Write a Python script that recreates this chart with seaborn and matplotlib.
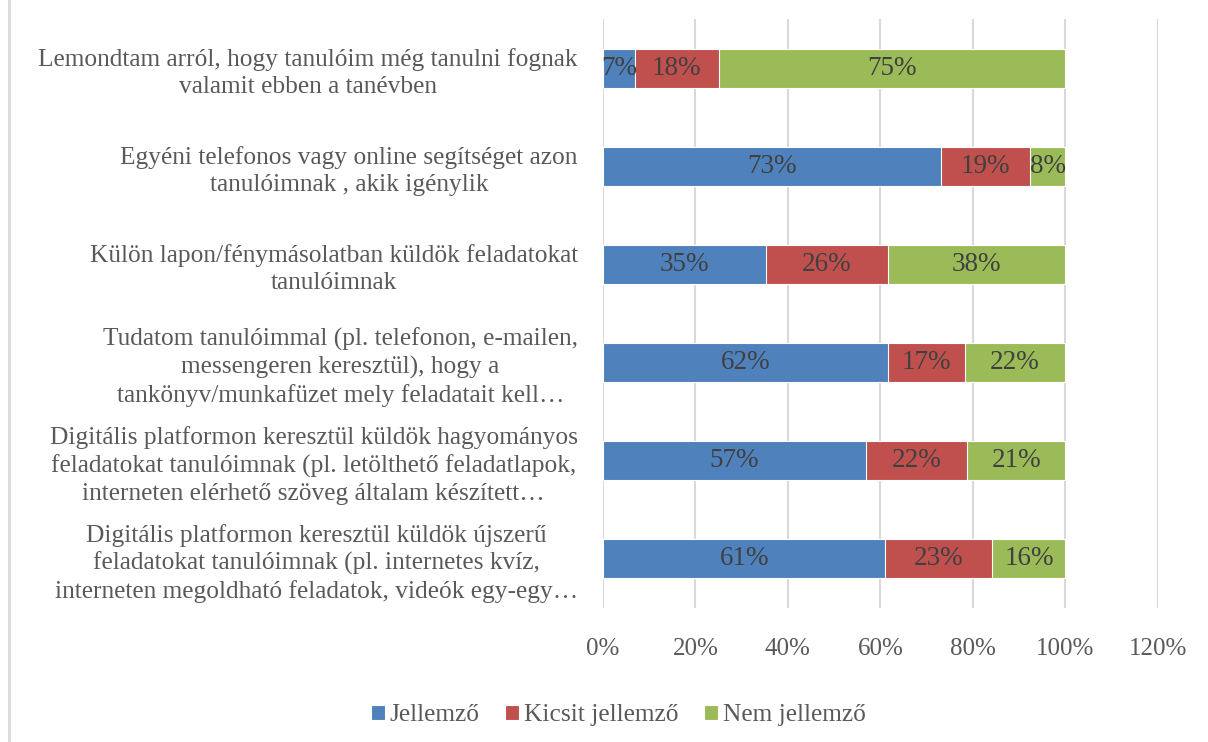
import pandas as pd
import seaborn as sns
import matplotlib.pyplot as plt
from matplotlib.lines import Line2D
from matplotlib.ticker import FuncFormatter

# Statements (top to bottom) and answer shares in percent
statements = [
    "Lemondtam arról, hogy tanulóim még tanulni fognak\nvalamit ebben a tanévben",
    "Egyéni telefonos vagy online segítséget azon\ntanulóimnak , akik igénylik",
    "Külön lapon/fénymásolatban küldök feladatokat\ntanulóimnak",
    "Tudatom tanulóimmal (pl. telefonon, e-mailen,\nmessengeren keresztül), hogy a\ntankönyv/munkafüzet mely feladatait kell…",
    "Digitális platformon keresztül küldök hagyományos\nfeladatokat tanulóimnak (pl. letölthető feladatlapok,\ninterneten elérhető szöveg általam készített…",
    "Digitális platformon keresztül küldök újszerű\nfeladatokat tanulóimnak (pl. internetes kvíz,\ninterneten megoldható feladatok, videók egy-egy…",
]
jellemzo = [6.9, 73.0, 35.3, 61.6, 56.8, 61.1]
kicsit = [18.2, 19.4, 26.3, 16.6, 22.0, 23.1]
nem = [74.9, 7.6, 38.4, 21.8, 21.2, 15.8]

series = ["Jellemző", "Kicsit jellemző", "Nem jellemző"]
colors = ["#4F81BD", "#C0504D", "#9BBB59"]

df = pd.DataFrame({"statement": statements, "Jellemző": jellemzo,
                   "Kicsit jellemző": kicsit, "Nem jellemző": nem})
df["c1"] = df["Jellemző"]
df["c2"] = df["c1"] + df["Kicsit jellemző"]
df["c3"] = df["c2"] + df["Nem jellemző"]

sns.set_theme(style="white")
plt.rcParams["font.family"] = ["Liberation Serif", "DejaVu Serif"]

fig = plt.figure(figsize=(12.08, 7.42), dpi=100)
ax = fig.add_axes([0.499, 0.181, 0.4596, 0.793])

# stacked bars: draw cumulative totals from the longest down
for col, color, name in zip(["c3", "c2", "c1"], colors[::-1], series[::-1]):
    sns.barplot(data=df, x=col, y="statement", color=color, orient="h",
                width=0.4, saturation=1, edgecolor="white", linewidth=0.8,
                label=name, ax=ax)

# segment labels
for i, row in df.iterrows():
    left = 0
    for s in series:
        v = row[s]
        ax.text(left + v / 2, i, f"{round(v):d}%", ha="center", va="center",
                fontsize=19.5, color="#404040")
        left += v

ax.set_xlim(0, 120)
ax.set_xticks(range(0, 121, 20))
ax.xaxis.set_major_formatter(FuncFormatter(lambda x, p: f"{x:.0f}%"))
ax.set_xlabel("")
ax.set_ylabel("")
ax.grid(axis="x", color="#d9d9d9", linewidth=1.5)
ax.grid(axis="y", visible=False)
ax.set_axisbelow(True)
sns.despine(ax=ax, left=True, bottom=True)
ax.tick_params(axis="x", length=0, pad=22, labelsize=18, labelcolor="#595959")
ax.tick_params(axis="y", length=0, pad=18, labelsize=18.3, labelcolor="#595959")
for lbl in ax.get_yticklabels():
    lbl.set_multialignment("center")
    lbl.set_linespacing(1.28)

handles, labels = ax.get_legend_handles_labels()
if ax.legend_:
    ax.legend_.remove()
fig.legend(handles[::-1], labels[::-1], loc="center", bbox_to_anchor=(0.512, 0.036),
           ncol=3, frameon=False, fontsize=18.3, handlelength=0.55, handleheight=0.55,
           handletextpad=0.2, columnspacing=1.0, labelcolor="#595959")

fig.add_artist(Line2D([0.0075, 0.0075], [0, 1], color="#d9d9d9", linewidth=2,
                      transform=fig.transFigure))

fig.savefig("out.png", dpi=100)
